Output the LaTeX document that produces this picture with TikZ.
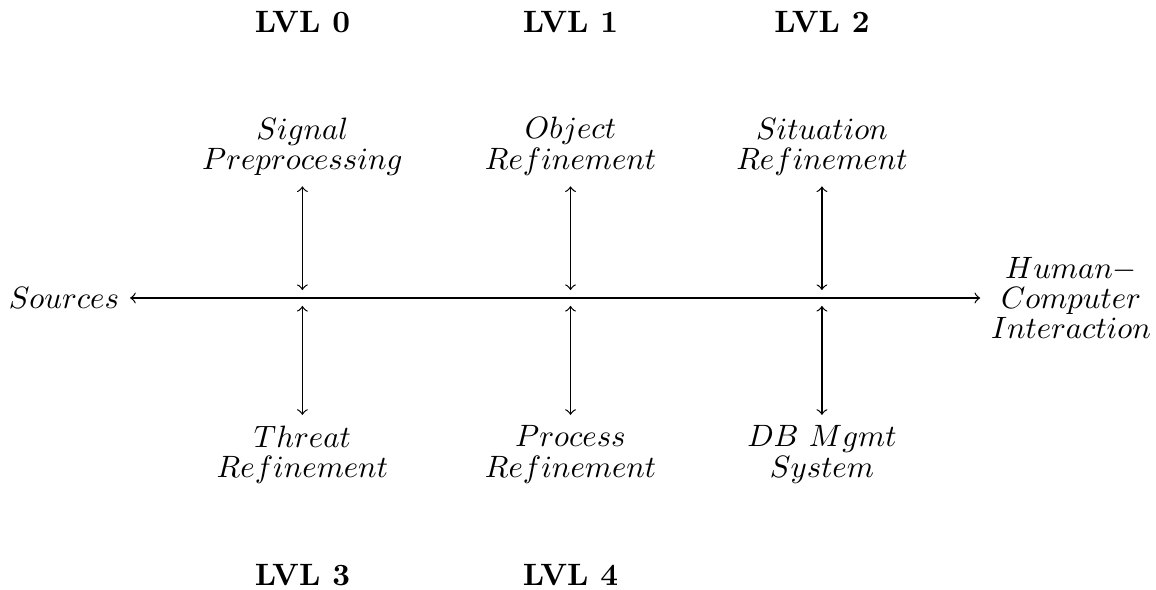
\documentclass[tikz,border=0pt]{standalone}
\usepackage{tikz}
\usetikzlibrary{positioning}

\begin{document}
\begin{tikzpicture}[
    lbl/.style={align=center, font={\baselineskip=9.8pt\lineskip=1pt\lineskiplimit=1pt}},
    lvl/.style={font=\bfseries},
    link/.style={<->}
]
    \useasboundingbox (0,0) rectangle (13.15,6.71);

    % Bus
    \node (src) [anchor=east] at (1.48,3.32) {$Sources$};
    \node (hci) [anchor=west, lbl] at (11.15,3.32) {$Human-$\\$Computer$\\$Interaction$};
    \draw[link] (src) -- (hci);

    % Junctions on the bus
    \coordinate (up0) at (3.44,3.41);  \coordinate (dn0) at (3.44,3.23);
    \coordinate (up1) at (6.49,3.41);  \coordinate (dn1) at (6.49,3.23);
    \coordinate (up2) at (9.35,3.41);  \coordinate (dn2) at (9.35,3.23);

    % Upper functions
    \node (sig) [anchor=south, lbl] at (3.44,4.59) {$Signal$\\$Preprocessing$};
    \node (obj) [anchor=south, lbl] at (6.49,4.59) {$Object$\\$Refinement$};
    \node (sit) [anchor=south, lbl] at (9.35,4.59) {$Situation$\\$Refinement$};

    % Lower functions
    \node (thr) [anchor=north, lbl] at (3.44,1.99) {$Threat$\\$Refinement$};
    \node (prc) [anchor=north, lbl] at (6.49,1.99) {$Process$\\$Refinement$};
    \node (dbm) [anchor=north, lbl] at (9.35,1.99) {$DB\ Mgmt$\\$System$};

    \draw[link] (sig.south) -- (up0);
    \draw[link] (obj.south) -- (up1);
    \draw[link] (sit.south) -- (up2);
    \draw[link] (thr.north) -- (dn0);
    \draw[link] (prc.north) -- (dn1);
    \draw[link] (dbm.north) -- (dn2);

    % Levels
    \node (l0) [lvl] at (3.44,6.46) {LVL 0};
    \node (l1) [lvl] at (6.49,6.46) {LVL 1};
    \node (l2) [lvl] at (9.35,6.46) {LVL 2};
    \node (l3) [lvl] at (3.44,0.17) {LVL 3};
    \node (l4) [lvl] at (6.49,0.17) {LVL 4};
\end{tikzpicture}
\end{document}
